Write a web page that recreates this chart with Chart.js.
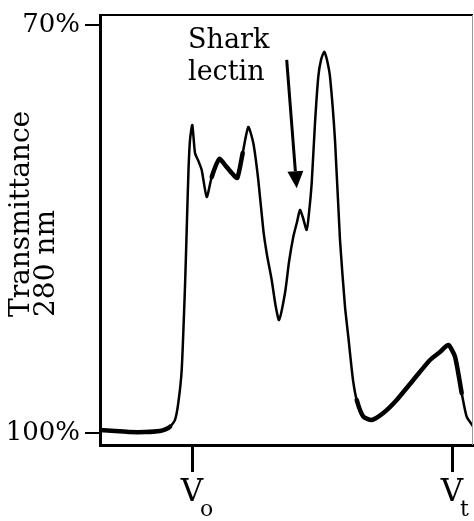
<!DOCTYPE html>
<html>
<head>
<meta charset="utf-8">
<script src="https://cdn.jsdelivr.net/npm/chart.js@4"></script>
<style>
  body { margin: 0; background: #fff; }
  #wrap { width: 474px; height: 521px; }
</style>
</head>
<body>
<div id="wrap"><canvas id="chart"></canvas></div>
<script>
// ---------------- Data ----------------
// elution volume (arbitrary units) and transmittance at 280 nm (%)
const volume = [0, 15, 30, 45, 60, 66, 70, 75, 78.3, 81.7, 85, 86.7, 88.5, 90, 92.3, 95, 98, 101.7,
    106.7, 111.7, 119.3, 125, 131.7, 137.3, 142.7, 148.3, 153.3, 158.3, 163.3, 167, 171.7, 175.5,
    179, 185, 189, 193.3, 197, 200, 202.7, 206.7, 209, 211.7, 215, 218.3, 221, 224.3, 227, 230,
    235, 240, 245, 248.3, 250, 253, 256.7, 263.3, 271.7, 283.3, 296.7, 313.3, 330, 340, 348.3,
    355, 361.7, 366.7, 373.3];
const transmittance = [99.78, 99.85, 99.93, 99.93, 99.85, 99.71, 99.54, 99.04, 97.79, 95.37, 89.24,
    85.07, 80.66, 78.46, 77.35, 79.41, 79.93, 80.66, 82.65, 81.18, 79.85, 80.29, 80.88, 81.25,
    79.41, 77.5, 78.68, 81.4, 85.07, 86.91, 88.75, 90.59, 91.69, 89.71, 87.43, 85.57, 84.49, 83.6,
    84.1, 85.07, 83.82, 81.62, 77.21, 73.8, 72.57, 71.96, 72.57, 73.8, 78.46, 85.81, 90.71, 92.92,
    94.12, 96.1, 97.57, 98.8, 99.04, 98.53, 97.57, 96.1, 94.63, 94.04, 93.53, 94.39, 97.06, 98.8,
    99.54];

const yTicks = [70, 100];
const xMarkers = [92, 352];          // Vo, Vt
const xMarkerSubs = ["o", "t"];

// annotation: "Shark lectin" arrow (data coords)
const lectinText = ["Shark", "lectin"];
const lectinTextAt = [{ x: 88, y: 71.69 }, { x: 88, y: 74.04 }];
const arrowFrom = { x: 186.7, y: 72.57 };
const arrowTo = { x: 196.7, y: 82.0 };

const SERIF = "'DejaVu Serif', 'Liberation Serif', serif";

// noisy stretches of the trace look thicker
function noisy(x) {
    return x < 70 || (x > 110 && x < 140) || (x > 256 && x < 358);
}

// ---------------- Extras: frame, labels, arrow ----------------
const extras = {
    id: "extras",
    afterDraw(chart) {
        const { ctx, chartArea: a, scales: { x, y } } = chart;
        ctx.save();
        // top + right frame
        ctx.strokeStyle = "#000";
        ctx.lineWidth = 2;
        ctx.beginPath();
        ctx.moveTo(a.left, a.top);
        ctx.lineTo(a.right, a.top);
        ctx.stroke();
        ctx.strokeStyle = "#999";
        ctx.lineWidth = 1;
        ctx.beginPath();
        ctx.moveTo(a.right - 0.5, a.top);
        ctx.lineTo(a.right - 0.5, a.bottom);
        ctx.stroke();

        // axis title
        ctx.fillStyle = "#000";
        ctx.font = "28px " + SERIF;
        ctx.textAlign = "left";
        ctx.textBaseline = "middle";
        ctx.translate(22, 317);
        ctx.rotate(-Math.PI / 2);
        ctx.fillText("Transmittance", 0, 0);
        ctx.fillText("280 nm", 0, 25);
        ctx.setTransform(1, 0, 0, 1, 0, 0);

        // V markers
        ctx.textBaseline = "alphabetic";
        xMarkers.forEach((v, i) => {
            const px = x.getPixelForValue(v);
            ctx.font = "31px " + SERIF;
            ctx.textAlign = "center";
            ctx.fillText("V", px, 501);
            ctx.font = "22px " + SERIF;
            ctx.textAlign = "left";
            ctx.fillText(xMarkerSubs[i], px + 8, 516);
        });

        // Shark lectin label
        ctx.font = "27px " + SERIF;
        ctx.textAlign = "left";
        lectinText.forEach((t, i) => {
            ctx.fillText(t, x.getPixelForValue(lectinTextAt[i].x), y.getPixelForValue(lectinTextAt[i].y));
        });

        // arrow
        const x0 = x.getPixelForValue(arrowFrom.x), y0 = y.getPixelForValue(arrowFrom.y);
        const x1 = x.getPixelForValue(arrowTo.x), y1 = y.getPixelForValue(arrowTo.y);
        const ang = Math.atan2(y1 - y0, x1 - x0);
        const headLen = 17, headW = 8;
        const bx = x1 - headLen * Math.cos(ang), by = y1 - headLen * Math.sin(ang);
        ctx.lineWidth = 3;
        ctx.strokeStyle = "#000";
        ctx.beginPath();
        ctx.moveTo(x0, y0);
        ctx.lineTo(bx, by);
        ctx.stroke();
        ctx.beginPath();
        ctx.moveTo(x1, y1);
        ctx.lineTo(bx + headW * Math.sin(ang), by - headW * Math.cos(ang));
        ctx.lineTo(bx - headW * Math.sin(ang), by + headW * Math.cos(ang));
        ctx.closePath();
        ctx.fill();
        ctx.restore();
    }
};

// ---------------- Chart ----------------
const ctx = document.getElementById("chart").getContext("2d");
new Chart(ctx, {
    type: "line",
    data: {
        datasets: [{
            data: volume.map((v, i) => ({ x: v, y: transmittance[i] })),
            borderColor: "#000",
            borderWidth: 2.5,
            borderCapStyle: "round",
            borderJoinStyle: "round",
            pointRadius: 0,
            tension: 0.2,
            segment: {
                borderWidth: c => noisy(c.p0.parsed.x) ? 4.5 : 2.5
            }
        }]
    },
    options: {
        responsive: true,
        maintainAspectRatio: false,
        animation: false,
        layout: { padding: { top: 15, right: 1, left: 0, bottom: 0 } },
        plugins: { legend: { display: false }, tooltip: { enabled: false } },
        scales: {
            x: {
                type: "linear",
                min: 0,
                max: 373,
                afterBuildTicks: s => { s.ticks = xMarkers.map(v => ({ value: v })); },
                afterFit: s => {
                    s.height = 76;
                    s.paddingLeft = 0; s.paddingRight = 0;
                },
                ticks: { callback: () => "", padding: 0 },
                grid: { drawOnChartArea: false, color: "#000", lineWidth: 3, tickLength: 27 },
                border: { display: true, color: "#000", width: 3 }
            },
            y: {
                type: "linear",
                reverse: true,
                min: 69.265,
                max: 100.882,
                afterBuildTicks: s => { s.ticks = yTicks.map(v => ({ value: v })); },
                afterFit: s => {
                    s.width = 100;
                    s.paddingTop = 0; s.paddingBottom = 0;
                },
                ticks: {
                    callback: v => v + "%",
                    color: "#000",
                    padding: 5,
                    font: { family: SERIF, size: 26 }
                },
                grid: { drawOnChartArea: false, color: "#000", lineWidth: 2, tickLength: 15 },
                border: { display: true, color: "#000", width: 3 }
            }
        }
    },
    plugins: [extras]
});
</script>
</body>
</html>
